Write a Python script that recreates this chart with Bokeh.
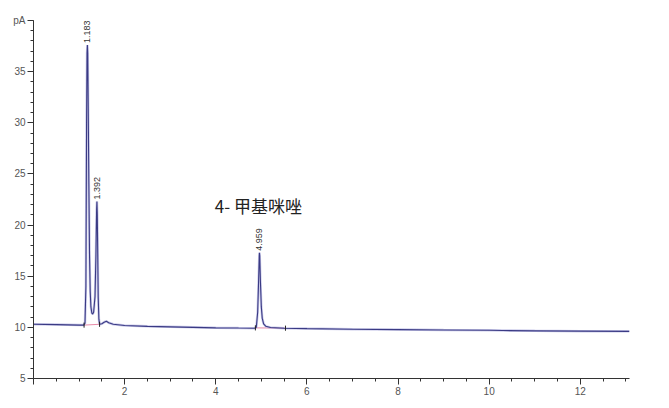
from bokeh.plotting import figure
from bokeh.models import Label, Range1d
from bokeh.embed import file_html
from bokeh.resources import INLINE

# retention time (min) and detector signal (pA)
time = [0.0, 0.5, 1.0, 1.10, 1.13, 1.15, 1.165, 1.175, 1.183, 1.19, 1.20,
        1.215, 1.23, 1.245, 1.26, 1.28, 1.30, 1.32, 1.35, 1.37, 1.385, 1.392,
        1.40, 1.41, 1.42, 1.435, 1.45, 1.50, 1.55, 1.60, 1.65, 1.75, 2.0,
        2.5, 3.0, 3.5, 4.0, 4.5, 4.85, 4.89, 4.92, 4.94, 4.955, 4.959, 4.965,
        4.98, 5.0, 5.02, 5.05, 5.1, 5.2, 5.5, 6.0, 7.0, 8.0, 9.0, 10.0, 10.3,
        11.0, 12.0, 13.08]
signal = [10.30, 10.27, 10.22, 10.22, 10.4, 14.0, 30.0, 36.8, 37.6, 36.8, 32.0,
          24.0, 17.0, 13.5, 12.0, 11.4, 11.3, 11.5, 13.0, 17.0, 21.5, 22.3,
          21.0, 17.0, 13.0, 10.8, 10.3, 10.35, 10.5, 10.6, 10.45, 10.3, 10.18,
          10.1, 10.05, 10.0, 9.95, 9.93, 9.92, 10.0, 11.5, 14.5, 17.0, 17.3, 17.0,
          14.5, 12.0, 10.9, 10.35, 10.1, 9.98, 9.92, 9.88, 9.82, 9.78, 9.74, 9.71, 9.69,
          9.66, 9.63, 9.61]

peak_rt = [1.183, 1.392, 4.959]
peak_top = [37.6, 22.3, 17.3]
peak_text = ["1.183", "1.392", "4.959"]

# integration baselines (start, end) and event marks
base_x0 = [1.11, 4.88]
base_y0 = [10.22, 9.95]
base_x1 = [1.45, 5.52]
base_y1 = [10.3, 9.92]
event_x = [1.11, 1.45, 4.87, 5.53]
event_y = [10.22, 10.3, 9.95, 9.92]

p = figure(width=648, height=400, output_backend="svg", toolbar_location=None,
           x_range=Range1d(0, 13.08), y_range=Range1d(5, 40),
           min_border_left=33, min_border_top=20, min_border_right=19,
           min_border_bottom=22)
p.outline_line_color = None
p.grid.visible = False
p.background_fill_color = "white"
p.border_fill_color = "white"

p.xaxis.ticker.desired_num_ticks = 7
p.xaxis.ticker.num_minor_ticks = 4
p.yaxis.ticker.num_minor_ticks = 5
p.xaxis.major_label_overrides = {0: ""}
p.yaxis.major_label_overrides = {40: "pA"}
for ax in (p.xaxis, p.yaxis):
    ax.axis_line_color = "#333333"
    ax.major_tick_line_color = "#333333"
    ax.minor_tick_line_color = "#333333"
    ax.major_tick_out = 6
    ax.major_tick_in = 0
    ax.minor_tick_out = 3
    ax.minor_tick_in = 0
    ax.major_label_text_font = "Liberation Sans"
    ax.major_label_text_font_size = "10px"
    ax.major_label_text_color = "#555555"
    ax.major_label_standoff = 2

p.segment(base_x0, base_y0, base_x1, base_y1, line_color="#e88aa8", line_width=1)
p.line(time, signal, line_color="#a8a8dc", line_width=2.5, line_alpha=0.6)
p.line(time, signal, line_color="#3a3a84", line_width=1.1)
p.segment(event_x, [y - 0.25 for y in event_y], event_x, [y + 0.25 for y in event_y],
          line_color="#222222", line_width=1)

p.text(peak_rt, [t + 0.2 for t in peak_top], text=peak_text, angle=1.5708,
       text_font_size="9px", text_color="#333333", text_baseline="middle",
       text_align="left")

p.add_layout(Label(x=3.98, y=21.9, text="4- 甲基咪唑", text_font="Noto Sans CJK SC",
                   text_font_size="17px", text_color="#222222",
                   text_baseline="middle"))

open("out.html", "w").write(file_html(p, INLINE))
